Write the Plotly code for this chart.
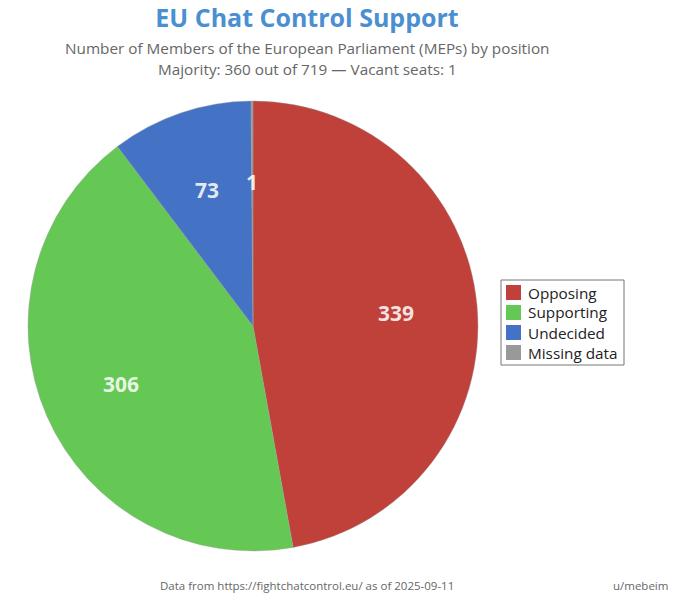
import math
import plotly.graph_objects as go

labels = ["Opposing", "Supporting", "Undecided", "Missing data"]
seats = [339, 306, 73, 1]
colors = ["#c0403a", "#66c854", "#4473c5", "#999999"]

W, H = 680, 600
# pie placement in pixels (centre and radius)
cx, cy, R = 245, 318, 225

fig = go.Figure(go.Pie(
    labels=labels,
    values=seats,
    sort=False,
    direction="clockwise",
    rotation=0,
    marker=dict(colors=colors, line=dict(color="#999999", width=0.4)),
    textinfo="none",
    domain=dict(x=[(cx - R) / W, (cx + R) / W], y=[1 - (cy + R) / H, 1 - (cy - R) / H]),
    hoverinfo="label+value",
    showlegend=False,
))


def note(text, px, py, size, color="#666666", xanchor="center"):
    return dict(text=text, x=px / W, y=1 - py / H, xref="paper", yref="paper",
                showarrow=False, xanchor=xanchor, yanchor="middle",
                font=dict(size=size, color=color))


annotations = [
    note("Number of Members of the European Parliament (MEPs) by position", 299, 40, 15.3),
    note("Majority: 360 out of 719 — Vacant seats: 1", 299, 61, 15.3),
    note("Data from https://fightchatcontrol.eu/ as of 2025-09-11", 299, 577, 11.5),
    note("u/mebeim", 662, 577, 11.5, xanchor="right"),
]

# value labels on each slice, at 0.64 R along the mid angle
total = sum(seats)
start = 0
for v in seats:
    a = 2 * math.pi * (start + v / 2) / total
    start += v
    annotations.append(note(f"<b>{v}</b>",
                            cx + 0.64 * R * math.sin(a),
                            cy - 0.64 * R * math.cos(a),
                            21, color="rgba(255,255,255,0.85)"))

# legend box
shapes = [dict(type="rect", xref="paper", yref="paper",
               x0=493 / W, x1=616 / W, y0=1 - 357 / H, y1=1 - 272 / H,
               line=dict(color="#777777", width=1), fillcolor="white")]
for i, (lab, col) in enumerate(zip(labels, colors)):
    top = 277 + 20 * i
    shapes.append(dict(type="rect", xref="paper", yref="paper",
                       x0=498 / W, x1=513 / W, y0=1 - (top + 15) / H, y1=1 - top / H,
                       line=dict(width=0), fillcolor=col))
    annotations.append(note(lab, 518, top + 7.5, 15.3, color="#222222", xanchor="left"))

fig.update_layout(
    width=W, height=H,
    margin=dict(l=0, r=0, t=0, b=0),
    paper_bgcolor="white",
    font=dict(family="Open Sans", color="#555555"),
    title=dict(
        text="<b>EU Chat Control Support</b>",
        x=299 / W, xanchor="center", y=0.998, yanchor="top",
        font=dict(family="Open Sans", size=25, color="#4a8fd1"),
    ),
    annotations=annotations,
    shapes=shapes,
)

fig.write_html("out.html")
